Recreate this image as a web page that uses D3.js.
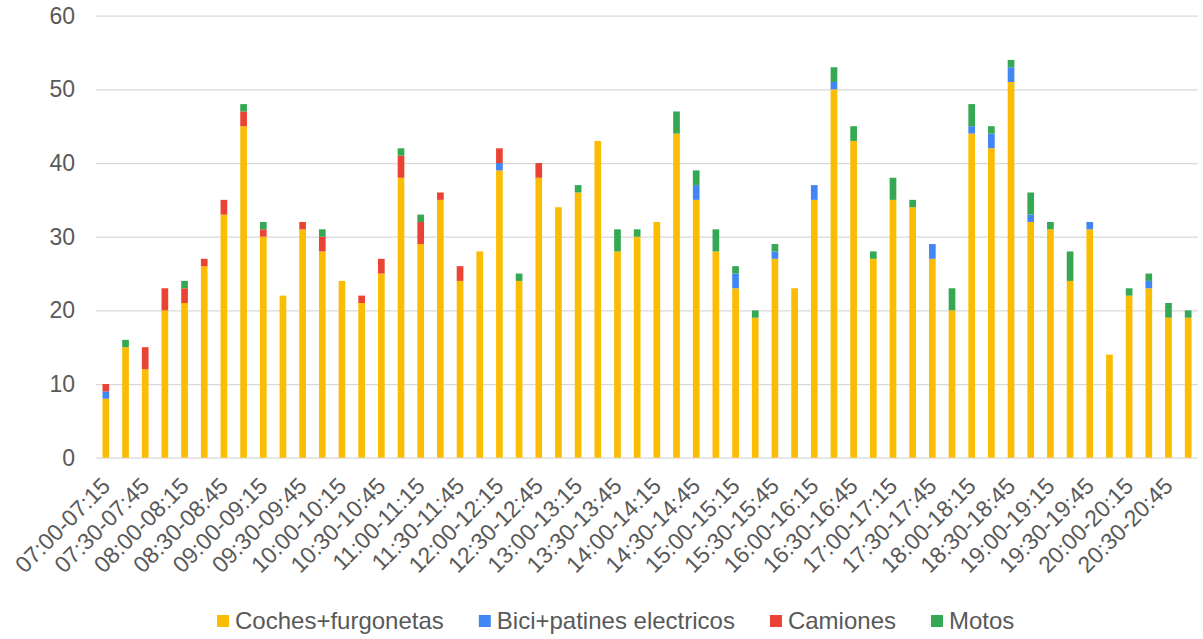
<!DOCTYPE html>
<html>
<head>
<meta charset="utf-8">
<script src="https://cdn.jsdelivr.net/npm/d3@7"></script>
<style>
  html, body { margin: 0; padding: 0; background: #ffffff; }
  svg { display: block; }
  text { font-family: "Liberation Sans", Arial, sans-serif; fill: #595959; }
</style>
</head>
<body>
<svg id="chart" width="1203" height="639"></svg>
<script>
const categories = [
  "07:00-07:15","07:15-07:30","07:30-07:45","07:45-08:00",
  "08:00-08:15","08:15-08:30","08:30-08:45","08:45-09:00",
  "09:00-09:15","09:15-09:30","09:30-09:45","09:45-10:00",
  "10:00-10:15","10:15-10:30","10:30-10:45","10:45-11:00",
  "11:00-11:15","11:15-11:30","11:30-11:45","11:45-12:00",
  "12:00-12:15","12:15-12:30","12:30-12:45","12:45-13:00",
  "13:00-13:15","13:15-13:30","13:30-13:45","13:45-14:00",
  "14:00-14:15","14:15-14:30","14:30-14:45","14:45-15:00",
  "15:00-15:15","15:15-15:30","15:30-15:45","15:45-16:00",
  "16:00-16:15","16:15-16:30","16:30-16:45","16:45-17:00",
  "17:00-17:15","17:15-17:30","17:30-17:45","17:45-18:00",
  "18:00-18:15","18:15-18:30","18:30-18:45","18:45-19:00",
  "19:00-19:15","19:15-19:30","19:30-19:45","19:45-20:00",
  "20:00-20:15","20:15-20:30","20:30-20:45","20:45-21:00"
];

const seriesNames = ["Coches+furgonetas", "Bici+patines electricos", "Camiones", "Motos"];
const seriesColors = ["#FBBC04", "#4285F4", "#EA4335", "#34A853"];

const coches = [8,15,12,20,21,26,33,45,30,22,31,28,24,21,25,38,29,35,24,28,
                39,24,38,34,36,43,28,30,32,44,35,28,23,19,27,23,35,50,43,27,
                35,34,27,20,44,42,51,32,31,24,31,14,22,23,19,19];
const bici   = [1,0,0,0,0,0,0,0,0,0,0,0,0,0,0,0,0,0,0,0,
                1,0,0,0,0,0,0,0,0,0,2,0,2,0,1,0,2,1,0,0,
                0,0,2,0,1,2,2,1,0,0,1,0,0,1,0,0];
const camiones = [1,0,3,3,2,1,2,2,1,0,1,2,0,1,2,3,3,1,2,0,
                2,0,2,0,0,0,0,0,0,0,0,0,0,0,0,0,0,0,0,0,
                0,0,0,0,0,0,0,0,0,0,0,0,0,0,0,0];
const motos  = [0,1,0,0,1,0,0,1,1,0,0,1,0,0,0,1,1,0,0,0,
                0,1,0,0,1,0,3,1,0,3,2,3,1,1,1,0,0,2,2,1,
                3,1,0,3,3,1,1,3,1,4,0,0,1,1,2,1];

const yTicks = [0, 10, 20, 30, 40, 50, 60];

(function draw() {
  const seriesValues = [coches, bici, camiones, motos];
  const table = categories.map((c, i) => {
    const row = { cat: c };
    seriesNames.forEach((s, k) => { row[s] = seriesValues[k][i]; });
    return row;
  });

  const svg = d3.select("#chart");
  const pLeft = 96, pRight = 1198, pTop = 15.7, pBottom = 457.7;

  const x = d3.scaleBand()
    .domain(categories)
    .range([pLeft, pRight])
    .paddingInner(0.66)
    .paddingOuter(0.33);

  const y = d3.scaleLinear()
    .domain([0, 60])
    .range([pBottom, pTop]);

  const color = d3.scaleOrdinal().domain(seriesNames).range(seriesColors);

  // gridlines
  const grid = svg.append("g")
    .attr("transform", `translate(${pLeft},0)`)
    .call(d3.axisLeft(y).tickValues(yTicks).tickSize(-(pRight - pLeft)).tickFormat(""));
  grid.select(".domain").remove();
  grid.selectAll(".tick line").attr("stroke", "#d9d9d9").attr("stroke-width", 1.3);

  // y labels
  const yAxis = svg.append("g")
    .attr("transform", `translate(75,0)`)
    .call(d3.axisLeft(y).tickValues(yTicks).tickSize(0).tickPadding(0));
  yAxis.select(".domain").remove();
  yAxis.selectAll("text")
    .attr("font-size", 23)
    .style("font-family", '"Liberation Sans", Arial, sans-serif')
    .attr("fill", "#595959");

  // stacked bars
  const layers = d3.stack().keys(seriesNames)(table);

  svg.append("g")
    .selectAll("g")
    .data(layers)
    .join("g")
    .attr("fill", d => color(d.key))
    .selectAll("rect")
    .data(d => d.filter(p => p[1] - p[0] > 0))
    .join("rect")
    .attr("x", d => x(d.data.cat))
    .attr("width", x.bandwidth())
    .attr("y", d => y(d[1]))
    .attr("height", d => y(d[0]) - y(d[1]));

  // x axis labels
  const xAxis = svg.append("g")
    .attr("transform", `translate(0,${pBottom})`)
    .call(d3.axisBottom(x)
      .tickValues(categories.filter((d, i) => i % 2 === 0))
      .tickSize(0));
  xAxis.select(".domain").remove();
  xAxis.selectAll("text")
    .attr("font-size", 23)
    .style("font-family", '"Liberation Sans", Arial, sans-serif')
    .attr("fill", "#595959")
    .attr("text-anchor", "end")
    .attr("x", 0)
    .attr("y", 0)
    .attr("dy", "0.35em")
    .attr("transform", "translate(0,24) rotate(-45)");

  // legend
  const legend = svg.append("g").attr("transform", "translate(217,0)");
  let lx = 0;
  seriesNames.forEach((name, k) => {
    const g = legend.append("g").attr("transform", `translate(${lx},0)`);
    g.append("rect")
      .attr("x", 0).attr("y", 615)
      .attr("width", 12).attr("height", 12)
      .attr("fill", seriesColors[k]);
    const t = g.append("text")
      .attr("x", 18).attr("y", 621)
      .attr("dy", "0.35em")
      .attr("font-size", 24)
      .text(name);
    const w = t.node().getComputedTextLength();
    lx += 18 + w + 35;
  });
})();
</script>
</body>
</html>
